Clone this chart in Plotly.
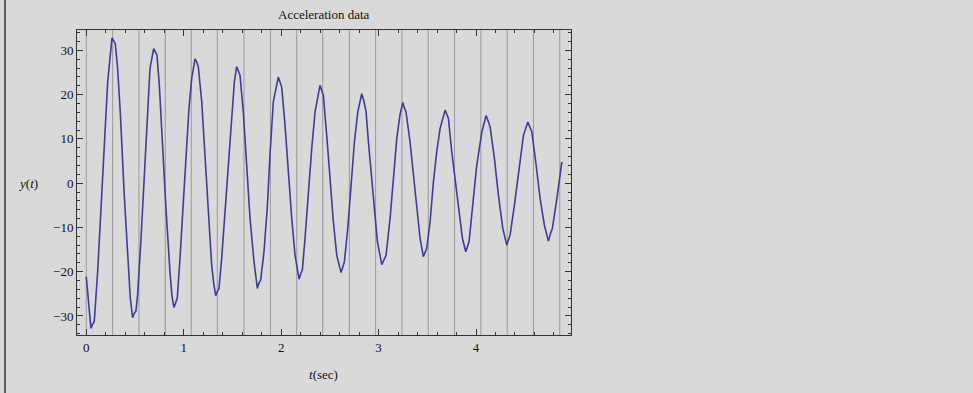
import plotly.graph_objects as go

# time (s) and acceleration readings
t_sec = [0.000, 0.048, 0.065, 0.082, 0.117, 0.151, 0.185, 0.220, 0.264, 0.280, 0.298, 0.322, 0.349, 0.390, 0.425,
         0.452, 0.476, 0.493, 0.510, 0.527, 0.562, 0.596, 0.623, 0.654, 0.692, 0.710, 0.726, 0.750, 0.777, 0.818,
         0.859, 0.880, 0.900, 0.918, 0.934, 0.962, 0.996, 1.024, 1.054, 1.082, 1.116, 1.133, 1.150, 1.185, 1.219,
         1.253, 1.287, 1.310, 1.329, 1.345, 1.362, 1.390, 1.424, 1.458, 1.493, 1.520, 1.544, 1.560, 1.578, 1.612,
         1.647, 1.681, 1.722, 1.756, 1.773, 1.790, 1.824, 1.858, 1.886, 1.920, 1.971, 1.988, 2.006, 2.040, 2.074,
         2.109, 2.143, 2.184, 2.200, 2.218, 2.245, 2.279, 2.314, 2.348, 2.399, 2.416, 2.433, 2.468, 2.502, 2.536,
         2.571, 2.615, 2.632, 2.649, 2.684, 2.718, 2.752, 2.787, 2.827, 2.850, 2.872, 2.896, 2.930, 2.964, 2.988,
         3.033, 3.055, 3.077, 3.118, 3.152, 3.187, 3.220, 3.248, 3.265, 3.282, 3.323, 3.357, 3.392, 3.426, 3.460,
         3.478, 3.495, 3.529, 3.563, 3.597, 3.631, 3.683, 3.700, 3.717, 3.751, 3.785, 3.830, 3.861, 3.895, 3.912,
         3.929, 3.973, 4.008, 4.060, 4.104, 4.125, 4.145, 4.189, 4.230, 4.275, 4.316, 4.333, 4.350, 4.394, 4.435,
         4.487, 4.532, 4.552, 4.573, 4.617, 4.658, 4.702, 4.743, 4.763, 4.784, 4.830, 4.881]
y_acc = [-21.1, -32.8, -31.8, -31.3, -20.0, -6.5, 9.3, 22.9, 32.8, 32.2, 31.5, 25.9, 16.1, -2.7, -17.0,
         -26.0, -30.4, -29.4, -28.9, -25.3, -12.5, 2.6, 15.3, 25.9, 30.4, 29.6, 28.9, 22.1, 10.8, -5.7,
         -20.0, -25.5, -28.1, -27.0, -26.0, -17.0, -5.0, 5.6, 16.9, 23.6, 28.1, 27.4, 26.3, 18.4, 5.6,
         -6.5, -18.5, -23.0, -25.4, -24.5, -23.8, -17.0, -6.5, 5.6, 16.9, 22.9, 26.3, 25.3, 24.4, 16.1,
         4.1, -8.0, -17.8, -23.8, -22.5, -21.9, -15.5, -5.5, 6.5, 18.4, 24.0, 22.8, 21.7, 13.1, 1.8,
         -8.0, -16.3, -21.7, -20.5, -19.6, -12.5, -2.0, 7.8, 16.1, 22.1, 21.0, 19.9, 10.8, 1.1, -8.7,
         -16.3, -20.2, -19.0, -17.8, -10.2, -0.5, 9.3, 16.1, 20.2, 18.5, 16.1, 9.3, 1.1, -6.5, -13.2,
         -18.4, -17.2, -16.3, -8.0, 1.1, 10.1, 15.5, 18.2, 17.0, 16.1, 9.3, 1.8, -6.5, -12.5, -16.6,
         -15.5, -14.7, -8.7, 0.3, 7.1, 12.3, 16.5, 15.5, 14.6, 7.1, 1.1, -8.0, -12.5, -15.5, -14.2,
         -13.2, -3.5, 4.1, 11.6, 15.3, 14.0, 12.7, 5.6, -2.7, -10.2, -14.0, -12.8, -11.7, -5.0, 1.8,
         10.8, 13.8, 12.8, 11.6, 4.1, -3.5, -9.5, -13.1, -11.5, -10.2, -3.5, 4.8]

# vertical grid line positions (s)
grid_t = [0.0, 0.271, 0.541, 0.811, 1.078, 1.345, 1.619, 1.890, 2.160, 2.427, 2.700, 2.970, 3.240,
          3.510, 3.780, 4.050, 4.320, 4.590, 4.860]

x_ticks = [0, 1, 2, 3, 4]
y_ticks = [-30, -20, -10, 0, 10, 20, 30]

FONT = "Liberation Serif, Times New Roman, serif"
BG = "#d9d9d9"
FRAME = "#333333"

fig = go.Figure()
fig.add_trace(go.Scatter(x=t_sec, y=y_acc, mode="lines",
                         line=dict(color="rgb(61,61,153)", width=1.6), showlegend=False))

shapes = []
for g in grid_t:
    shapes.append(dict(type="line", xref="x", yref="paper", x0=g, x1=g, y0=0, y1=1,
                       line=dict(color="#999999", width=1), layer="below"))
# left border of the picture
shapes.append(dict(type="line", xref="paper", yref="paper", x0=-0.1457, x1=-0.1457, y0=-0.2, y1=1.11,
                   line=dict(color=FRAME, width=1.5)))

axis_common = dict(showline=True, linecolor=FRAME, linewidth=1, mirror="ticks", ticks="inside",
                   tickcolor=FRAME, showgrid=False, zeroline=False,
                   tickfont=dict(family=FONT, size=13, color="#111"))

fig.update_layout(
    width=973, height=393, autosize=False,
    margin=dict(l=77, r=402, t=30, b=58),
    paper_bgcolor=BG, plot_bgcolor=BG,
    shapes=shapes,
    xaxis=dict(range=[-0.095, 4.975], tickvals=x_ticks, ticklen=6, tickwidth=1,
               minor=dict(dtick=0.2, tick0=0, ticklen=3, ticks="inside", tickcolor=FRAME, showgrid=False),
               **axis_common),
    yaxis=dict(range=[-34.3, 34.6], tickvals=y_ticks, ticklen=6, tickwidth=1,
               minor=dict(dtick=2, tick0=0, ticklen=3, ticks="inside", tickcolor=FRAME, showgrid=False),
               **axis_common),
    annotations=[
        dict(text="Acceleration data", xref="paper", yref="paper", x=0.499, y=1.052,
             showarrow=False, xanchor="center", yanchor="middle",
             font=dict(family=FONT, size=13, color="#111")),
        dict(text="<i>y</i>(<i>t</i>)", xref="paper", yref="paper", x=-0.099, y=0.498,
             showarrow=False, xanchor="center", yanchor="middle",
             font=dict(family=FONT, size=13, color="#111")),
        dict(text="<i>t</i>(sec)", xref="paper", yref="paper", x=0.499, y=-0.128,
             showarrow=False, xanchor="center", yanchor="middle",
             font=dict(family=FONT, size=13, color="#111")),
    ],
)

fig.write_html("out.html")
